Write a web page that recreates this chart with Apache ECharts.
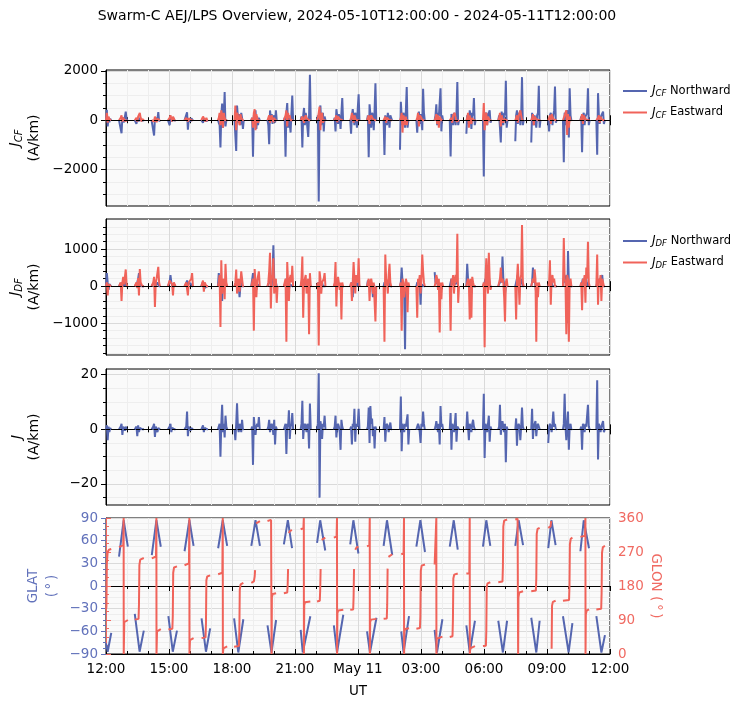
<!DOCTYPE html>
<html>
<head>
	<meta charset="utf-8">
	<title>Swarm-C AEJ/LPS Overview</title>
	<style>html, body { margin: 0; background: #fff; }</style>
</head>
<body>
	<div style="width:749px;height:708px;" id="chart1"></div>

	<script src="https://cdn.jsdelivr.net/npm/echarts@6/dist/echarts.min.js"></script>
	<script>
	// time axis: hours since 2024-05-10 12:00 UT
	var hourLabels = ['12:00', '15:00', '18:00', '21:00', 'May 11', '03:00', '06:00', '09:00', '12:00'];

	// start of each auroral pass (h); current samples every STEP hours
	var STEP = 0.04;
	var passStart = [0.00, 0.62, 1.37, 2.17, 2.95, 3.74, 4.54, 5.33, 6.12, 6.92, 7.69, 8.47, 9.27, 10.05, 10.85, 11.63,
		12.43, 13.22, 14.00, 14.78, 15.65, 16.37, 17.16, 17.95, 18.68, 19.49, 20.25, 21.06, 21.76, 22.59, 23.35];

	// J_CF northward (A/km)
	var jcfNorth = [
		[40, 420, -250, 120, -80, 60, 0],
		[0, 40, -80, -530, 120, 60, -90, 150, 350, 60, 0],
		[0, 30, -150, 60, 40, -40, 100, 30, -20, 50, 0, 0],
		[0, 50, -60, -620, 80, 40, 120, 60, 330, -40, 0],
		[0, 40, -200, 80, 60, -40, 100, 40, -20, 0],
		[0, 30, 80, 320, -380, 60, 40, -60, 80, 20, 0],
		[0, 20, -100, 60, 40, 80, -40, 30, 0],
		[0, 60, -200, -1100, 200, 680, -300, 150, 1150, -250, 0, 0],
		[0, 80, -1250, 600, 150, -100, 250, -200, 300, 100, -350, 0],
		[0, 100, -1480, 200, 100, 400, -350, 150, -200, 100, 0],
		[0, -200, -970, 400, 100, 250, -150, 100, 200, -100, 400, 0],
		[0, 100, -1480, 300, 700, -300, 200, 150, -500, 300, 1000, 0],
		[0, 150, -1100, 200, 500, -200, 300, 100, -300, -680, 200, 1850, 0],
		[0, 200, -3300, 300, 600, -200, 150, 300, -450, 150, 0],
		[0, 100, -450, 450, 200, -150, 250, 100, -350, 300, 900, 0],
		[0, -550, 200, 450, 150, -200, 300, 200, -300, 500, 1050, 0],
		[0, 200, -1500, 650, 250, -300, 300, 200, -400, 400, 1500, 0],
		[0, -1410, 200, 150, -200, 300, 100, -300, 200, 100, 0],
		[-1200, 750, 150, -200, 300, 200, -300, 400, 1350, -300, 0],
		[0, -500, 200, 350, -150, 250, 200, -400, 1280, 300, 0],
		[0, 200, 650, -200, 300, 150, 200, 1300, -450, 200, 0],
		[0, -1470, 250, 150, -200, 300, 100, -200, 300, 1550, -200, 0],
		[-550, 200, 150, -150, 400, 200, -350, 300, 200, 900, -200, 0],
		[0, -2280, 200, 150, 300, -200, 200, 150, 400, -100, 0],
		[0, 200, -300, -900, 350, 150, -200, 300, 200, 1600, -300, 0],
		[-850, 200, 400, -150, 200, 300, -200, 200, 1750, -200, 0],
		[-900, 300, 350, -200, 200, 150, -300, 200, 300, 1400, -300, 0],
		[0, -450, 200, 300, 350, -200, 200, 400, 1370, -100, 0],
		[0, -1700, 300, 200, -200, 400, 300, -700, 1300, 200, 0],
		[0, 150, -1300, 200, 300, -200, 150, 200, 300, 1300, -200, 0],
		[0, -1400, 1100, 200, -150, 100, 200, 150, 350, -150, 0]
	];

	// J_CF eastward (A/km)
	var jcfEast = [
		[0, 300, -100, 150, 50, 0, 0],
		[0, 50, 100, 200, -50, 100, 50, -30, 0, 0, 0],
		[0, 50, 100, -50, 150, 200, 300, 100, -50, 50, 0, 0],
		[0, 30, 80, -50, 150, 100, -80, 60, 0, 0, 0],
		[0, 50, 100, 200, 250, -50, 150, 100, 0, 0],
		[0, 30, 100, 50, -50, 80, 60, 0, 0, 0, 0],
		[0, 50, 150, 200, 100, -50, 100, 0, 0],
		[0, 100, 300, -200, 400, 200, -300, 300, 100, 0, 0, 0],
		[0, 600, -400, 300, 200, 150, -200, 250, 100, 50, 0, 0],
		[0, 100, -300, 300, 450, -400, 250, 100, -100, 0, 0],
		[0, 50, 200, -100, 100, 200, 150, -80, 100, 0, 0, 0],
		[0, 100, 200, 400, -250, 300, 100, 200, 0, 0, 0, 0],
		[0, 50, 150, 200, -100, 100, 200, 80, 0, 0, 0, 0, 0],
		[0, 100, 300, 550, -400, 200, 300, -100, 0, 0, 0],
		[0, 50, 100, 200, -80, 150, 100, 50, 0, 0, 0, 0],
		[0, 100, 300, 150, -100, 200, 250, 0, 0, 0, 0, 0],
		[0, 50, 200, -150, 100, 200, 150, 50, 0, 0, 0, 0],
		[0, 50, 150, -100, 100, 150, 50, 0, 0, 0, 0],
		[0, 100, 300, -500, 200, 100, -200, 150, -200, 0, 0],
		[0, 100, 300, -250, 200, 250, 100, 0, 0, 0, 0],
		[0, 100, 250, -150, 200, -300, 150, 100, 0, 0, 0],
		[0, 50, 100, -100, 200, 150, 300, 100, -50, 0, 0, 0],
		[0, 100, 300, -300, 200, 250, -150, 100, 0, 0, 0, 0],
		[0, 700, -400, 200, 300, -200, 150, 100, 0, 0, 0],
		[0, 100, 300, -250, 200, 150, -100, 50, 0, 0, 0, 0],
		[0, 100, 200, -100, 150, 300, 400, 200, 0, 0, 0],
		[0, 100, 250, -200, 150, 200, 50, 0, 0, 0, 0, 0],
		[0, 100, 200, -150, 250, 150, 50, 0, 0, 0, 0],
		[0, 100, 200, 300, 400, -600, 250, -300, 150, 0, 0],
		[0, 100, 250, -150, 200, 150, 50, 0, 0, 0, 0, 0],
		[0, 50, 100, 200, -100, 150, 50, 0, 0, 0, 0]
	];

	// J_DF northward (A/km)
	var jdfNorth = [
		[0, 350, 100, -100, 50, 0, 0],
		[0, 30, 80, -100, 100, 50, 0, 50, 100, 0, 0],
		[0, 30, 50, 100, 200, 350, 100, 50, 0, 0, 0, 0],
		[0, 30, 50, 100, 50, 0, 50, 100, 150, 0, 0],
		[0, 50, 100, 300, 100, 50, -50, 50, 0, 0],
		[0, 30, 80, 150, 50, 0, 50, 80, 50, 0, 0],
		[0, 30, 120, 50, -50, 0, 0, 0, 0],
		[0, 350, 100, 50, 100, -400, 50, 100, 0, 50, 0, 0],
		[0, 50, 100, 50, -100, 0, -300, 0, 100, 0, 0, 0],
		[0, 50, 350, 100, 50, 0, -100, 50, 0, 0, 0],
		[0, 50, 100, 300, 100, 0, 300, 1100, 200, 0, 100, 0, 0],
		[0, 50, 100, 200, 100, 50, -100, 50, 100, 0, 0, 0],
		[0, 50, 150, 100, 50, 0, 100, 50, 0, 0, -100, 50, 0],
		[0, 50, 100, 50, 0, 50, 100, 0, 50, 0, 0],
		[0, 50, 100, 200, 50, 0, 100, 50, 0, -50, 0, 0],
		[0, 50, 100, -300, 100, 50, 0, 100, 50, 0, 100, 0],
		[0, 150, 100, 50, 0, 100, 50, -300, 50, 0, -100, 0],
		[0, 100, 50, 150, 100, 0, 50, 100, 0, 0, 0],
		[0, 100, 500, 100, 50, -200, -1700, 100, 50, -100, 0, 0],
		[0, 100, 50, 150, 100, -500, 50, 100, 0, 0, 0],
		[380, 100, 50, 100, 50, 0, 100, 0, -50, 0, 0],
		[0, 100, 200, 50, 100, 0, 50, 100, 0, 100, 0, 0],
		[0, 600, 200, 100, -100, 50, -200, 100, 0, 0, 0, 0],
		[0, 50, 100, 200, 100, 50, 100, 300, 0, 0, 0],
		[0, 50, 100, 200, 100, 800, 200, 50, -200, 0, 0, 0],
		[0, 100, 200, 300, 100, -100, 50, 100, 200, 0, 0],
		[0, 100, 500, 100, 200, 0, -200, 50, 0, 0, 0],
		[0, 50, 100, 200, 100, 0, 50, 0, 0, 0, 0],
		[0, 200, 100, 50, 300, -1000, 950, 100, 0, 0, 0, 0],
		[0, 50, 100, 200, 100, 0, 100, 200, 0, 100, 0, 0],
		[0, 100, 50, 100, 200, 100, 50, 300, 0, 0, 0]
	];

	// J_DF eastward (A/km)
	var jdfEast = [
		[0, 100, -250, 50, 80, 0, 0],
		[0, 50, 100, -400, 100, 250, 50, 100, 450, 50, 0],
		[0, 50, 100, -50, 220, -250, 460, 100, 50, 0, 0, 0],
		[0, 50, 100, 250, -560, 100, 200, 150, 520, 100, 0],
		[0, 50, 150, 200, 100, 50, -250, 100, 50, 0],
		[0, 50, 100, 150, -250, 100, 50, 100, 200, 350, 0],
		[0, 50, 150, -150, 100, 50, 0, 0, 0],
		[0, 100, 300, -1100, 700, -200, 100, 200, -350, 600, 100, 0],
		[0, 100, 450, -200, 100, 200, -150, 100, 400, 350, 0, 0],
		[0, 100, 200, -1200, 460, 100, -300, 150, 200, 400, 0],
		[0, 100, 400, 900, -600, 200, 300, 750, -200, 100, 200, -450, 0],
		[0, 100, 200, -1500, 650, 100, -400, 200, 300, 100, 550, 0],
		[0, 200, 800, -850, 100, 200, 300, -200, 100, 200, -1300, 350, 0],
		[0, 100, -1600, 400, 200, -200, 100, 150, 200, 350, 0],
		[0, 100, 650, -550, 100, 250, 200, -100, 100, -900, 100, 0],
		[0, 100, -400, 100, 650, 200, -200, 300, 200, 100, 750, 0],
		[0, 100, 200, -400, 100, 200, 50, -200, 100, 150, -950, 0],
		[0, -1500, 850, 200, 100, -200, 300, 600, 100, 0, 0],
		[0, 100, -1200, 200, 100, -300, -100, 200, 100, -700, 100, 0],
		[0, -850, 200, 100, 300, -200, 200, 850, 400, 100, 0],
		[0, 100, 300, 200, -100, 200, -1250, 100, -350, 100, 0],
		[0, -1200, 200, 100, 300, -200, 150, 300, 100, 1410, -450, 0],
		[0, 100, 200, 100, -900, 200, -850, 250, 100, 0, 0, 0],
		[0, 100, -1650, 200, 750, 100, -200, 900, 200, -100, 0],
		[0, 100, 200, 500, 100, 200, 100, -300, -950, 100, 200, 0],
		[0, -900, 200, 600, 100, -500, 200, 300, 1650, 100, 0],
		[0, 100, 200, 100, 450, 200, -1500, 100, -300, 100, 0],
		[0, 100, 700, -500, 200, 300, 100, 200, 0, 0, 0],
		[0, 1300, 200, 100, -1300, 300, 200, -1500, 100, 200, 0, 0],
		[0, 100, -650, 200, 100, 300, -450, 500, 200, 1200, 100, 0],
		[0, 850, -500, 200, 100, 300, -400, 200, 100, 0, 0]
	];

	// J (A/km)
	var jTotal = [
		[0, 1.5, -4, 1, -1, 0.5, 0],
		[0, 0.5, 1, 2, -2, 1, 0.5, -0.5, 1, 0, 0],
		[0, 0.5, 1, -2.5, 1.5, -1, 0.5, 0.5, 0, 0, 0, 0],
		[0, 0.5, 1, 2, -2.8, 1, 0.5, -1, 0.5, 0, 0],
		[0, 0.5, 1, 2, -1, 0.5, 0.5, 0, 0, 0],
		[0, 0.5, 1, 6.5, -2.5, 1, 0.5, -0.5, 0.5, 0, 0],
		[0, 0.5, 1.5, -1, 0.5, 0.5, 0, 0, 0],
		[0, 1, 2, -10, 2, 9, -1, 2, -3, 5, 1, 0],
		[0, -4, 2, 9.5, 1, -1, 2, 1, -1, 3.5, 0, 0],
		[0, 1, -13, 4.5, 1, -2, 1, 2, 1, 4.5, 0],
		[0, 1, 3.5, -1, 1, 2, 1, -2, 3.5, -5.5, 1, 0, 0],
		[0, 1, 2, -9, 2, 1, 7, -3.5, 1, 2, 6, 0],
		[0, 2, 10.5, -3.5, 1, 2, 1, -1, 2, 1, -7, 9.5, 0],
		[0, 2, 20.5, -25, 3, 1, -3.5, 2, 1, 5, 0],
		[0, 1, 5, -3, 1, 2, 1, -1, -7.5, 3.5, 1, 0],
		[0, 1, -5.5, 2, 1, 7.5, -4.5, 2, 1, 2, 7.5, 0],
		[0, 1, 8, -5, 8.5, 2, 4, -2.5, 1, -7, 1, 0],
		[0, 4.5, -4.5, 1, 2, 1, -1, 1, 2.5, 0, 0],
		[0, 12, -8, 2, 1, -1, 2, 1, 1, 5.5, -5.5, 0],
		[0, 1, 2, 1, -1, -5, 2, 1, 6.5, 2, 0],
		[0, 1, 3, 1, -1, 2, -5.5, 8.5, 1, 2, 0],
		[0, 6, -7.5, 2, 1, -1, 2, 6, -4.5, 1, 1, 0],
		[0, 6.5, 1, -4, 2, 1, -1, 2, 3.5, 1, 0, 0],
		[0, 13, -10.5, 2, 1, -1, 2, 5, -4.5, 1, 0],
		[0, 1, 9, -2, 1, 3, 1, -1, 2, -12, 1, 0],
		[0, 4, -6, 1, 2, 1, -4, 1, 8, 1, 0],
		[0, 7.5, -3.5, 1, 2, 3, -2.5, 1, 2, 1, 0],
		[-5, 1, 2, 1, -1, 2, 6.5, 1, 2, 0, 0],
		[0, 2, 13, 1, -4, 2, 6.5, -7.5, 1, 2, 0, 0],
		[0, 1, -7.5, 2, 1, -1, 2, 1, 1, 9, 1, 0],
		[0, 18, -11, 2, 1, -1, 1, 2, 3, -1, 0]
	];

	// geographic latitude along each pass: [h, deg]
	var glat = [
		[[0.00, -76], [0.08, -87], [0.25, -62]],
		[[0.62, 39], [0.84, 87], [1.04, 52]],
		[[1.37, -37], [1.60, -87], [1.80, -59]],
		[[2.18, 41], [2.40, 87], [2.61, 52]],
		[[2.97, -40], [3.18, -87], [3.38, -59]],
		[[3.74, 46], [3.97, 87], [4.17, 53]],
		[[4.55, -43], [4.76, -87], [4.96, -56]],
		[[5.34, 50], [5.56, 87], [5.77, 53]],
		[[6.10, -43], [6.30, -88], [6.54, -44]],
		[[6.92, 53], [7.12, 87], [7.33, 53]],
		[[7.69, -52], [7.88, -88], [8.10, -45]],
		[[8.47, 55], [8.66, 87], [8.86, 50]],
		[[9.27, -58], [9.37, -88], [9.73, -40]],
		[[10.05, 57], [10.20, 87], [10.44, 47]],
		[[10.85, -52], [11.00, -88], [11.30, -38]],
		[[11.63, 55], [11.78, 87], [12.02, 43]],
		[[12.43, -60], [12.57, -88], [12.88, -42]],
		[[13.22, 53], [13.38, 87], [13.63, 41]],
		[[14.06, -60], [14.17, -88], [14.43, -40]],
		[[14.78, 52], [14.97, 87], [15.19, 45]],
		[[15.65, -58], [15.76, -88], [16.02, -44]],
		[[16.37, 52], [16.56, 87], [16.75, 48]],
		[[17.16, -52], [17.32, -88], [17.57, -46]],
		[[17.95, 52], [18.11, 87], [18.30, 53]],
		[[18.68, -46], [18.90, -88], [19.10, -46]],
		[[19.49, 53], [19.65, 87], [19.86, 54]],
		[[20.25, -42], [20.49, -88], [20.65, -46]],
		[[21.06, 50], [21.21, 87], [21.41, 54]],
		[[21.76, -40], [22.03, -88], [22.21, -49]],
		[[22.59, 46], [22.75, 87], [23.00, 50]],
		[[23.35, -40], [23.59, -88], [23.76, -65]]
	];

	// geographic longitude along each pass: [h, deg]
	var glon = [
		[[0.00, 118], [0.02, 125], [0.04, 240], [0.08, 270], [0.14, 276], [0.25, 278]],
		[[0.62, 283], [0.82, 288], [0.84, 360], [0.845, 0], [0.87, 84], [0.93, 88], [1.04, 90]],
		[[1.37, 91], [1.55, 93], [1.57, 130], [1.59, 235], [1.63, 250], [1.80, 254]],
		[[2.18, 253], [2.38, 258], [2.40, 360], [2.405, 0], [2.43, 60], [2.49, 64], [2.61, 66]],
		[[2.97, 65], [3.16, 67], [3.18, 100], [3.20, 215], [3.24, 229], [3.38, 232]],
		[[3.74, 235], [3.95, 240], [3.97, 360], [3.975, 0], [4.00, 37], [4.06, 40], [4.17, 42]],
		[[4.55, 42], [4.74, 44], [4.76, 80], [4.78, 195], [4.82, 205], [4.96, 208]],
		[[5.34, 211], [5.54, 215], [5.56, 360], [5.565, 0], [5.59, 15], [5.65, 19], [5.77, 20]],
		[[6.10, 19], [6.33, 21], [6.35, 60], [6.37, 170], [6.41, 184], [6.54, 188]],
		[[6.92, 188], [7.04, 192], [7.08, 205], [7.10, 222]],
		[[7.15, 346], [7.20, 350], [7.33, 352]],
		[[7.69, 352], [7.86, 355], [7.88, 360], [7.885, 0], [7.90, 150], [7.94, 159], [8.10, 161]],
		[[8.47, 161], [8.63, 163], [8.65, 180], [8.67, 225]],
		[[8.71, 320], [8.76, 326], [8.86, 328]],
		[[9.27, 330], [9.40, 334], [9.42, 360], [9.425, 0], [9.44, 130], [9.48, 137], [9.73, 139]],
		[[10.05, 139], [10.18, 141], [10.20, 170], [10.22, 225]],
		[[10.27, 302], [10.32, 306], [10.44, 308]],
		[[10.85, 308], [10.98, 311], [11.00, 360], [11.005, 0], [11.02, 108], [11.06, 115], [11.30, 117]],
		[[11.63, 117], [11.77, 118], [11.79, 150], [11.81, 225]],
		[[11.87, 276], [11.93, 282], [12.02, 284]],
		[[12.43, 285], [12.54, 288], [12.56, 360], [12.565, 0], [12.58, 85], [12.62, 91], [12.88, 93]],
		[[13.22, 93], [13.37, 94], [13.39, 130], [13.41, 226]],
		[[13.45, 257], [13.50, 262], [13.63, 264]],
		[[14.06, 264], [14.17, 266], [14.19, 360], [14.195, 0], [14.21, 60], [14.25, 66], [14.43, 68]],
		[[14.78, 67], [14.95, 69], [14.97, 100], [14.99, 220], [15.03, 234], [15.19, 237]],
		[[15.65, 237], [15.71, 238], [15.73, 360], [15.735, 0], [15.75, 40], [15.79, 45], [16.02, 46]],
		[[16.37, 45], [16.50, 47], [16.52, 90], [16.54, 200], [16.58, 210], [16.75, 213]],
		[[17.16, 213], [17.30, 214], [17.32, 360], [17.325, 0], [17.34, 15], [17.38, 20], [17.57, 21]],
		[[17.95, 21], [18.09, 22], [18.11, 60], [18.13, 178], [18.17, 187], [18.30, 190]],
		[[18.68, 190], [18.88, 192], [18.90, 230], [18.92, 338], [18.96, 353], [19.10, 356]],
		[[19.49, 356], [19.60, 358], [19.62, 360], [19.625, 0], [19.64, 150], [19.68, 163], [19.86, 166]],
		[[20.25, 166], [20.47, 168], [20.49, 200], [20.51, 318], [20.55, 331], [20.65, 334]],
		[[21.06, 334], [21.17, 338], [21.20, 352]],
		[[21.22, 14], [21.24, 128], [21.28, 138], [21.41, 141]],
		[[21.76, 141], [22.05, 143], [22.07, 180], [22.09, 290], [22.13, 305], [22.21, 308]],
		[[22.59, 310], [22.81, 313], [22.83, 360], [22.835, 0], [22.85, 105], [22.89, 115], [23.00, 118]],
		[[23.35, 118], [23.58, 120], [23.60, 160], [23.62, 268], [23.66, 283], [23.76, 286]]
	];

	// y ticks of the three current panels
	var jcfTicks = [-2000, 0, 2000];
	var jcfMinor = [-3000, -2500, -1500, -1000, -500, 500, 1000, 1500];
	var jdfTicks = [-1000, 0, 1000];
	var jdfMinor = [-1800, -1600, -1400, -1200, -800, -600, -400, -200, 200, 400, 600, 800, 1200, 1400, 1600];
	var jTicks = [-20, 0, 20];
	var jMinor = [-25, -15, -10, -5, 5, 10, 15];

	var FONT = 'DejaVu Sans';
	var BLUE = '#5566b0', RED = '#f0635a';
	var LAT_C = '#6272bb', LON_C = '#f06a62';
	var GRID_C = '#dadada', MINOR_C = '#eeeeee';

	function minus(v) { return String(v).replace('-', '\u2212'); }

	// one line per pass, broken between passes
	function passLine(passes) {
		var out = [];
		for (var k = 0; k < passes.length; k++) {
			var t0 = passStart[k], vals = passes[k];
			for (var i = 0; i < vals.length; i++) out.push([+(t0 + i * STEP).toFixed(3), vals[i]]);
			out.push([t0 + vals.length * STEP, '-']);
		}
		return out;
	}
	function segLine(segs) {
		var out = [];
		segs.forEach(function (s) {
			s.forEach(function (p) { out.push(p); });
			out.push([s[s.length - 1][0], '-']);
		});
		return out;
	}

	var rich = {
		i: { fontFamily: FONT, fontStyle: 'italic', fontSize: 14, color: '#000' },
		s: { fontFamily: FONT, fontStyle: 'italic', fontSize: 10, color: '#000', padding: [7, 0, 0, 0] },
		n: { fontFamily: FONT, fontSize: 14, color: '#000', lineHeight: 20 }
	};
	var legRich = {
		i: { fontFamily: FONT, fontStyle: 'italic', fontSize: 12, color: '#000' },
		s: { fontFamily: FONT, fontStyle: 'italic', fontSize: 8.5, color: '#000', padding: [6, 0, 0, 0] },
		t: { fontFamily: FONT, fontSize: 11.5, color: '#000' }
	};
	var legNames = {
		jcfN: '{i|J}{s|CF}{t| Northward}', jcfE: '{i|J}{s|CF}{t| Eastward}',
		jdfN: '{i|J}{s|DF}{t| Northward}', jdfE: '{i|J}{s|DF}{t| Eastward}'
	};

	var tops = [70, 219, 369, 518], H = 136;
	var grids = [], xAxes = [], yAxes = [];

	tops.forEach(function (top, g) {
		var last = g === 3;
		grids.push({ left: 106, right: 139, top: top, height: H, show: true,
			backgroundColor: '#fafafa', borderColor: '#000', borderWidth: 1 });
		xAxes.push({
			type: 'value', gridIndex: g, position: 'bottom', min: 0, max: 24, interval: 3,
			axisLine: { show: true, lineStyle: { color: '#000' } },
			axisTick: { show: true, length: 5, lineStyle: { color: '#000' } },
			minorTick: { show: true, splitNumber: 3, length: 3, lineStyle: { color: '#000' } },
			splitLine: { show: true, lineStyle: { color: GRID_C } },
			minorSplitLine: { show: true, lineStyle: { color: MINOR_C } },
			axisLabel: { show: last, margin: 8, color: '#000', fontSize: 13.5, fontFamily: FONT,
				formatter: function (v) { return hourLabels[Math.round(v / 3)]; } },
			name: last ? 'UT' : '', nameLocation: 'middle', nameGap: 30,
			nameTextStyle: { color: '#000', fontSize: 13.5, fontFamily: FONT }
		});
		xAxes.push({
			type: 'value', gridIndex: g, position: 'top', min: 0, max: 24, interval: 3,
			axisLine: { show: true, lineStyle: { color: '#000' } },
			axisTick: { show: true, length: 5, lineStyle: { color: '#000' } },
			minorTick: { show: true, splitNumber: 3, length: 3, lineStyle: { color: '#000' } },
			splitLine: { show: false }, axisLabel: { show: false }
		});
	});

	function currentAxes(g, min, max, ticks, minor, name) {
		yAxes.push({
			type: 'value', gridIndex: g, position: 'left', min: min, max: max,
			axisLine: { show: true, lineStyle: { color: '#000' } },
			axisTick: { show: true, length: 5, customValues: ticks, lineStyle: { color: '#000' } },
			axisLabel: { customValues: ticks, formatter: minus, margin: 8, color: '#000', fontSize: 13.5, fontFamily: FONT },
			splitLine: { show: true, lineStyle: { color: GRID_C } },
			name: name, nameLocation: 'middle', nameRotate: 90, nameGap: 62,
			nameTextStyle: { rich: rich, align: 'center' }
		});
		yAxes.push({
			type: 'value', gridIndex: g, position: 'left', min: min, max: max,
			axisLine: { show: false },
			axisTick: { show: true, length: 3, customValues: minor, lineStyle: { color: '#000' } },
			axisLabel: { show: false },
			splitLine: { show: true, lineStyle: { color: MINOR_C } }
		});
	}
	currentAxes(0, -3480, 2040, jcfTicks, jcfMinor, '{i|J}{s|CF}\n{n|(A/km)}');
	currentAxes(1, -1857, 1811, jdfTicks, jdfMinor, '{i|J}{s|DF}\n{n|(A/km)}');
	currentAxes(2, -27.7, 22.1, jTicks, jMinor, '{i|J}\n{n|(A/km)}');

	yAxes.push({
		type: 'value', gridIndex: 3, position: 'left', min: -90, max: 90, interval: 30,
		axisLine: { show: true, lineStyle: { color: '#000' } },
		axisTick: { show: true, length: 5, lineStyle: { color: LAT_C } },
		minorTick: { show: true, splitNumber: 4, length: 3, lineStyle: { color: LAT_C } },
		splitLine: { show: true, lineStyle: { color: GRID_C } },
		minorSplitLine: { show: true, lineStyle: { color: MINOR_C } },
		axisLabel: { formatter: minus, margin: 8, color: LAT_C, fontSize: 13.5, fontFamily: FONT },
		name: 'GLAT\n(\u2009\u00b0\u2009)', nameLocation: 'middle', nameRotate: 90, nameGap: 44,
		nameMoveOverlap: false,
		nameTextStyle: { color: LAT_C, fontSize: 13.5, fontFamily: FONT, lineHeight: 19, align: 'center' }
	});
	yAxes.push({
		type: 'value', gridIndex: 3, position: 'right', min: 0, max: 360, interval: 90,
		axisLine: { show: true, lineStyle: { color: LON_C } },
		axisTick: { show: true, length: 5, lineStyle: { color: LON_C } },
		minorTick: { show: true, splitNumber: 4, length: 3, lineStyle: { color: LON_C } },
		splitLine: { show: false },
		axisLabel: { margin: 8, color: LON_C, fontSize: 13.5, fontFamily: FONT },
		name: 'GLON (\u2009\u00b0\u2009)', nameLocation: 'middle', nameRotate: -90, nameGap: 38,
		nameMoveOverlap: false,
		nameTextStyle: { color: LON_C, fontSize: 13.5, fontFamily: FONT }
	});

	var zeroLine = {
		silent: true, symbol: 'none', label: { show: false },
		lineStyle: { color: '#000', type: [4, 2], width: 1 },
		data: [{ yAxis: 0 }]
	};

	function line(name, color, xi, yi, data, extra) {
		var s = {
			name: name, type: 'line', xAxisIndex: xi, yAxisIndex: yi, data: data,
			showSymbol: false, symbol: 'none', connectNulls: false,
			lineStyle: { color: color, width: 2 }, itemStyle: { color: color }
		};
		if (extra) s.markLine = zeroLine;
		return s;
	}

	var myChart = echarts.init(document.getElementById('chart1'));
	var option = {
		animation: false,
		textStyle: { fontFamily: FONT },
		graphic: [{
			type: 'text', x: 357, y: 16,
			style: { text: 'Swarm-C AEJ/LPS Overview, 2024-05-10T12:00:00 - 2024-05-11T12:00:00',
				fill: '#000', font: '14px "DejaVu Sans"', textAlign: 'center', textVerticalAlign: 'middle' }
		}],
		legend: [{
			left: 618, top: 80, orient: 'vertical', itemGap: 8, itemWidth: 24, itemHeight: 2, icon: 'rect',
			data: ['jcfN', 'jcfE'], formatter: function (n) { return legNames[n]; },
			textStyle: { rich: legRich }
		}, {
			left: 618, top: 230, orient: 'vertical', itemGap: 8, itemWidth: 24, itemHeight: 2, icon: 'rect',
			data: ['jdfN', 'jdfE'], formatter: function (n) { return legNames[n]; },
			textStyle: { rich: legRich }
		}],
		grid: grids,
		xAxis: xAxes,
		yAxis: yAxes,
		series: [
			line('jcfN', BLUE, 0, 0, passLine(jcfNorth)),
			line('jcfE', RED, 0, 0, passLine(jcfEast), true),
			line('jdfN', BLUE, 2, 2, passLine(jdfNorth)),
			line('jdfE', RED, 2, 2, passLine(jdfEast), true),
			line('j', BLUE, 4, 4, passLine(jTotal), true),
			line('glat', BLUE, 6, 6, segLine(glat)),
			line('glon', RED, 6, 7, segLine(glon))
		]
	};
	myChart.setOption(option);
	</script>
</body>
</html>
